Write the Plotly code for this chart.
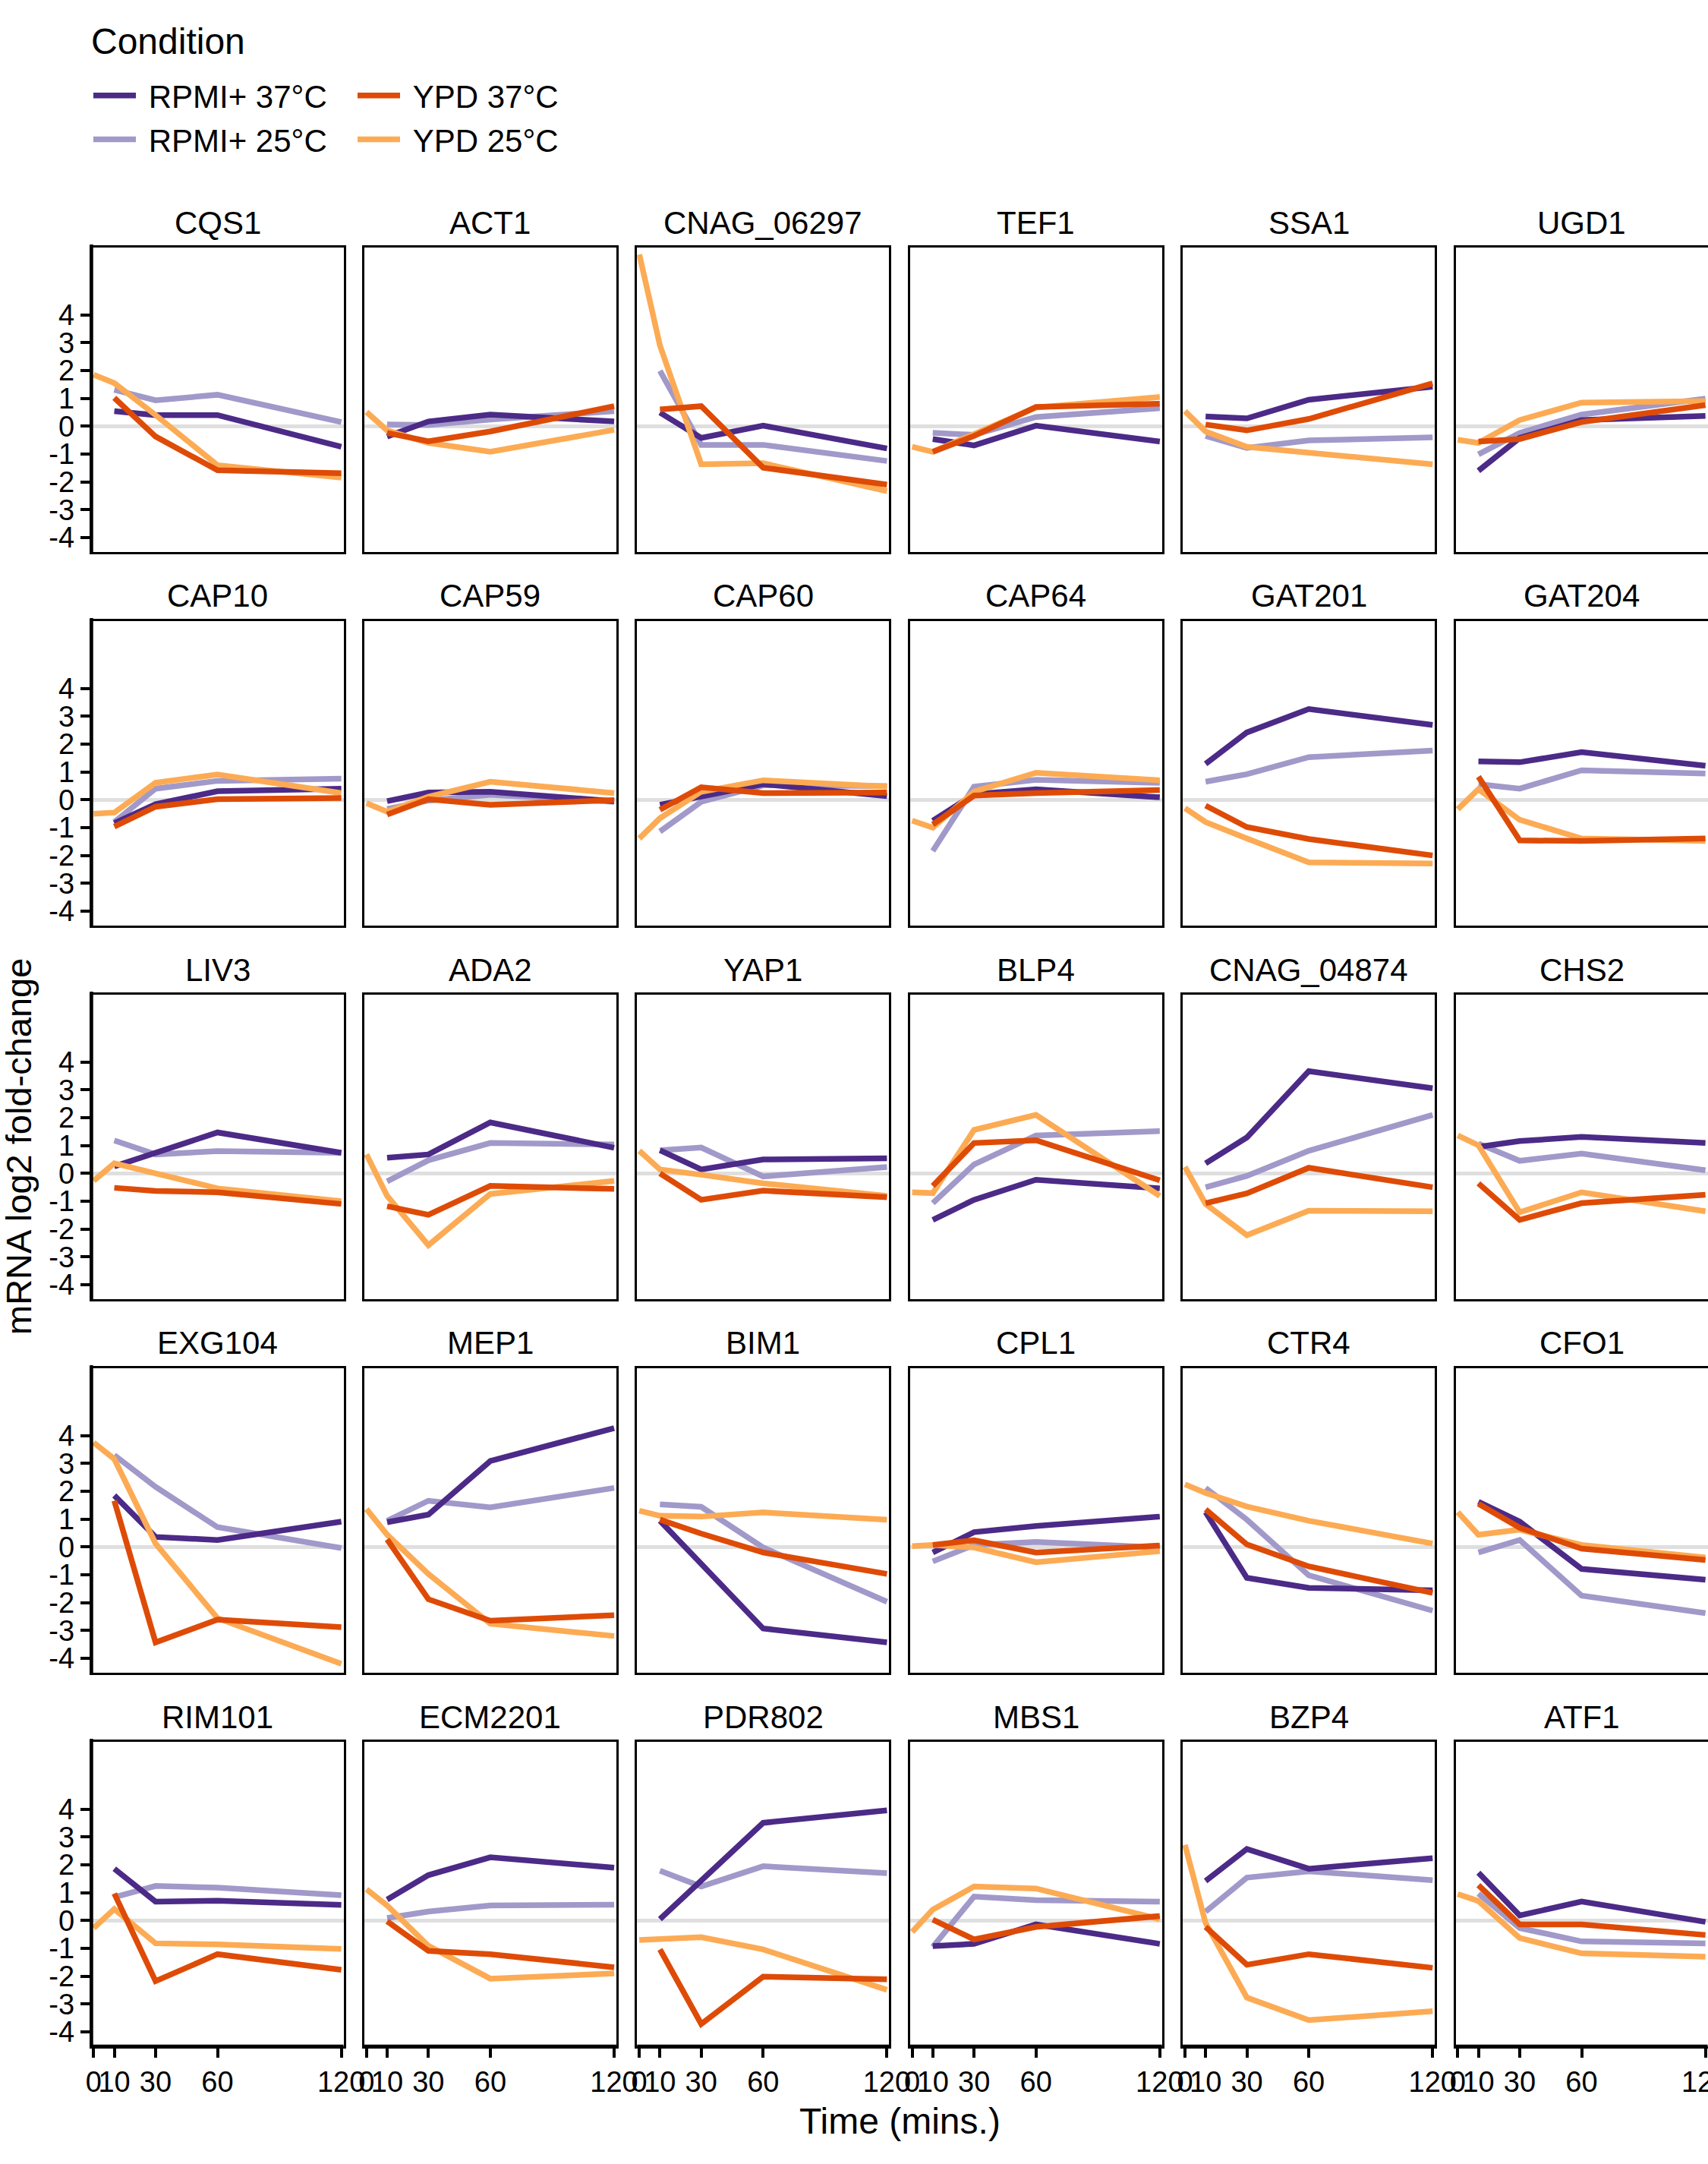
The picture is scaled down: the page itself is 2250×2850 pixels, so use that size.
import plotly.graph_objects as go

# ---------------- data ----------------
times = [0, 10, 30, 60, 120]
x_tick_labels = ["0", "10", "30", "60", "120"]
y_tick_vals = [-4, -3, -2, -1, 0, 1, 2, 3, 4]
y_tick_labels = ["-4", "-3", "-2", "-1", "0", "1", "2", "3", "4"]

genes = ["CQS1", "ACT1", "CNAG_06297", "TEF1", "SSA1", "UGD1",
         "CAP10", "CAP59", "CAP60", "CAP64", "GAT201", "GAT204",
         "LIV3", "ADA2", "YAP1", "BLP4", "CNAG_04874", "CHS2",
         "EXG104", "MEP1", "BIM1", "CPL1", "CTR4", "CFO1",
         "RIM101", "ECM2201", "PDR802", "MBS1", "BZP4", "ATF1"]

# values at 10, 30, 60, 120 min
rpmi_37 = [
    [0.54, 0.40, 0.40, -0.74], [-0.37, 0.17, 0.42, 0.17], [0.49, -0.42, 0.02, -0.80],
    [-0.46, -0.69, 0.02, -0.55], [0.35, 0.28, 0.95, 1.42], [-1.60, -0.42, 0.22, 0.37],
    [-0.84, -0.16, 0.31, 0.40], [-0.05, 0.26, 0.29, -0.05], [-0.18, 0.11, 0.56, 0.13],
    [-0.75, 0.20, 0.38, 0.09], [1.29, 2.42, 3.26, 2.69], [1.38, 1.35, 1.71, 1.22],
    [0.25, 0.72, 1.47, 0.74], [0.56, 0.68, 1.83, 0.92], [0.83, 0.14, 0.50, 0.54],
    [-1.67, -0.95, -0.23, -0.54], [0.36, 1.29, 3.67, 3.06], [0.95, 1.16, 1.31, 1.09],
    [1.85, 0.36, 0.25, 0.91], [0.89, 1.16, 3.09, 4.27], [0.94, -0.61, -2.93, -3.43],
    [-0.20, 0.53, 0.75, 1.09], [1.25, -1.11, -1.47, -1.56], [1.62, 0.91, -0.79, -1.18],
    [1.86, 0.68, 0.71, 0.56], [0.75, 1.63, 2.27, 1.90], [0.05, 1.42, 3.51, 3.96],
    [-0.92, -0.84, -0.14, -0.84], [1.42, 2.57, 1.86, 2.24], [1.72, 0.18, 0.68, -0.05],
]
rpmi_25 = [
    [1.31, 0.93, 1.13, 0.15], [0.06, 0.04, 0.24, 0.54], [1.99, -0.67, -0.67, -1.25],
    [-0.24, -0.31, 0.33, 0.65], [-0.35, -0.78, -0.51, -0.40], [-1.01, -0.24, 0.42, 0.99],
    [-0.80, 0.40, 0.68, 0.76], [-0.33, -0.03, 0.18, -0.07], [-1.14, -0.07, 0.52, 0.49],
    [-1.84, 0.47, 0.72, 0.61], [0.65, 0.92, 1.53, 1.77], [0.56, 0.40, 1.06, 0.94],
    [1.18, 0.68, 0.80, 0.74], [-0.29, 0.47, 1.09, 1.04], [0.83, 0.93, -0.11, 0.23],
    [-1.07, 0.32, 1.36, 1.52], [-0.50, -0.09, 0.81, 2.10], [1.07, 0.45, 0.71, 0.11],
    [3.30, 2.16, 0.71, -0.04], [0.94, 1.66, 1.42, 2.12], [1.53, 1.44, -0.02, -1.97],
    [-0.52, 0.07, 0.18, -0.02], [2.12, 0.98, -1.02, -2.29], [-0.20, 0.25, -1.75, -2.38],
    [0.84, 1.24, 1.18, 0.91], [0.09, 0.32, 0.54, 0.57], [1.79, 1.22, 1.95, 1.70],
    [-0.95, 0.86, 0.73, 0.68], [0.32, 1.54, 1.77, 1.45], [0.97, -0.27, -0.75, -0.82],
]
ypd_37 = [
    [1.02, -0.37, -1.58, -1.69], [-0.24, -0.54, -0.19, 0.72], [0.60, 0.72, -1.49, -2.10],
    [-0.92, -0.35, 0.69, 0.81], [0.06, -0.15, 0.26, 1.54], [-0.55, -0.46, 0.15, 0.76],
    [-0.96, -0.25, 0.02, 0.06], [-0.53, 0.02, -0.18, -0.01], [-0.36, 0.45, 0.24, 0.26],
    [-0.89, 0.15, 0.24, 0.35], [-0.21, -0.98, -1.41, -2.00], [0.83, -1.46, -1.48, -1.39],
    [-0.52, -0.63, -0.68, -1.10], [-1.18, -1.49, -0.45, -0.56], [0.00, -0.95, -0.62, -0.86],
    [-0.45, 1.09, 1.19, -0.25], [-1.07, -0.72, 0.20, -0.50], [-0.36, -1.67, -1.07, -0.77],
    [1.66, -3.43, -2.61, -2.88], [0.27, -1.88, -2.65, -2.45], [0.98, 0.48, -0.20, -0.97],
    [0.07, 0.24, -0.20, 0.05], [1.35, 0.09, -0.70, -1.65], [1.55, 0.69, -0.06, -0.47],
    [0.97, -2.18, -1.21, -1.77], [-0.03, -1.09, -1.21, -1.68], [-1.04, -3.72, -2.02, -2.11],
    [0.03, -0.68, -0.23, 0.16], [-0.23, -1.59, -1.21, -1.70], [1.27, -0.14, -0.14, -0.52],
]
# values at 0, 10, 30, 60, 120 min
ypd_25 = [
    [1.85, 1.55, 0.40, -1.40, -1.85], [0.51, -0.15, -0.60, -0.92, -0.13], [6.17, 2.90, -1.37, -1.33, -2.33],
    [-0.74, -0.92, -0.28, 0.67, 1.05], [0.54, -0.19, -0.74, -0.96, -1.37], [-0.49, -0.60, 0.22, 0.85, 0.90],
    [-0.50, -0.46, 0.61, 0.91, 0.24], [-0.12, -0.43, 0.11, 0.65, 0.24], [-1.39, -0.66, 0.29, 0.70, 0.47],
    [-0.75, -1.00, 0.29, 0.97, 0.70], [-0.30, -0.80, -1.39, -2.25, -2.29], [-0.34, 0.38, -0.72, -1.39, -1.48],
    [-0.27, 0.36, 0.00, -0.54, -1.00], [0.68, -0.81, -2.58, -0.74, -0.27], [0.81, 0.14, -0.05, -0.36, -0.81],
    [-0.68, -0.71, 1.56, 2.10, -0.81], [0.23, -1.10, -2.22, -1.34, -1.36], [1.36, 1.01, -1.40, -0.68, -1.36],
    [3.75, 3.16, 0.12, -2.56, -4.20], [1.36, 0.44, -0.97, -2.76, -3.20], [1.30, 1.12, 1.09, 1.24, 0.98],
    [0.03, 0.07, -0.02, -0.55, -0.15], [2.25, 1.94, 1.45, 0.94, 0.12], [1.25, 0.44, 0.62, 0.07, -0.38],
    [-0.27, 0.41, -0.82, -0.86, -1.02], [1.12, 0.54, -0.91, -2.09, -1.90], [-0.70, -0.66, -0.60, -1.04, -2.49],
    [-0.41, 0.39, 1.22, 1.15, 0.05], [2.72, -0.09, -2.77, -3.58, -3.26], [0.95, 0.70, -0.63, -1.18, -1.30],
]

cond_names = ["RPMI+ 25°C", "RPMI+ 37°C", "YPD 25°C", "YPD 37°C"]  # drawing order
cond_data = {"RPMI+ 37°C": rpmi_37, "RPMI+ 25°C": rpmi_25,
             "YPD 37°C": ypd_37, "YPD 25°C": ypd_25}
cond_colors = {"RPMI+ 37°C": "#4c2a87", "RPMI+ 25°C": "#a199c9",
               "YPD 37°C": "#de4b07", "YPD 25°C": "#fcab54"}
cond_rank = {"RPMI+ 37°C": 1, "RPMI+ 25°C": 2, "YPD 37°C": 3, "YPD 25°C": 4}
cond_legend = {"RPMI+ 37°C": "legend", "RPMI+ 25°C": "legend",
               "YPD 37°C": "legend2", "YPD 25°C": "legend2"}

# ---------------- layout geometry ----------------
W, H = 2250, 2850
NCOL, NROW = 6, 5
col_left, col_pitch, panel_w = 120.5, 359.4, 332.0
row_top, row_pitch, panel_h = 326.0, 492.0, 401.0
FONT = "Liberation Sans, Arial, Helvetica, sans-serif"

fig = go.Figure()
layout = dict(
    width=W, height=H, template="none",
    margin=dict(l=0, r=0, t=0, b=0),
    paper_bgcolor="white", plot_bgcolor="white",
    font=dict(family=FONT, color="black", size=38),
    showlegend=True,
)
annotations = []
shapes = []

for i, g in enumerate(genes):
    r, c = divmod(i, NCOL)
    k = "" if i == 0 else str(i + 1)
    x0 = (col_left + c * col_pitch) / W
    x1 = (col_left + c * col_pitch + panel_w) / W
    top = row_top + r * row_pitch
    y1 = 1 - top / H
    y0 = 1 - (top + panel_h) / H
    bottom_row = (r == NROW - 1)
    left_col = (c == 0)

    for cond in cond_names:
        vals = cond_data[cond][i]
        yv = list(vals) if len(vals) == 5 else [None] + list(vals)
        fig.add_trace(go.Scatter(
            x=times, y=yv, mode="lines", name="\u00a0" + cond,
            line=dict(color=cond_colors[cond], width=7.5),
            xaxis="x" + k, yaxis="y" + k,
            showlegend=(i == 0), legendgroup=cond,
            legend=cond_legend[cond], legendrank=cond_rank[cond],
            connectgaps=False, hoverinfo="skip",
        ))

    layout["xaxis" + k] = dict(
        domain=[x0, min(x1, 1.0)], anchor="y" + k, range=[-1.06, 121.06],
        showgrid=False, zeroline=False,
        showline=True, mirror=True, linecolor="black", linewidth=2.5,
        tickmode="array", tickvals=times, ticktext=x_tick_labels, tickangle=0,
        ticks="outside" if bottom_row else "", ticklen=12, tickwidth=3.5,
        tickcolor="black", showticklabels=bottom_row, ticklabeloverflow="allow",
        tickfont=dict(size=38, color="black", family=FONT),
        automargin=False, fixedrange=True,
    )
    layout["yaxis" + k] = dict(
        domain=[y0, y1], anchor="x" + k, range=[-4.52, 6.42],
        showgrid=False, zeroline=True, zerolinecolor="#dfdfdf", zerolinewidth=4.5,
        showline=True, mirror=True, linecolor="black", linewidth=2.5,
        tickmode="array", tickvals=y_tick_vals, ticktext=y_tick_labels,
        ticks="outside" if left_col else "", ticklen=12, tickwidth=3.5,
        tickcolor="black", showticklabels=left_col,
        tickfont=dict(size=38, color="black", family=FONT),
        automargin=False, fixedrange=True,
    )
    # strip title
    annotations.append(dict(
        text=g, x=(x0 + min(x1, 1.0)) / 2, y=1 - (top - 33) / H,
        xref="paper", yref="paper", xanchor="center", yanchor="middle",
        showarrow=False, font=dict(size=42, color="black", family=FONT)))
    # thick axis lines
    if bottom_row:
        shapes.append(dict(type="line", xref="x" + k + " domain", yref="y" + k + " domain",
                           x0=0, x1=1, y0=0, y1=0, line=dict(color="black", width=4.5),
                           layer="above"))
    if left_col:
        shapes.append(dict(type="line", xref="x" + k + " domain", yref="y" + k + " domain",
                           x0=0, x1=0, y0=0, y1=1.01, line=dict(color="black", width=4.5),
                           layer="above"))

# axis titles
annotations.append(dict(
    text="Time (mins.)", x=(col_left + (NCOL * col_pitch - (col_pitch - panel_w)) / 2) / W,
    y=1 - 2793 / H, xref="paper", yref="paper", xanchor="center", yanchor="middle",
    showarrow=False, font=dict(size=48, color="black", family=FONT)))
annotations.append(dict(
    text="mRNA log2 fold-change", x=24 / W, y=1 - 1510 / H, textangle=-90,
    xref="paper", yref="paper", xanchor="center", yanchor="middle",
    showarrow=False, font=dict(size=47, color="black", family=FONT)))
# legend title
annotations.append(dict(
    text="Condition", x=118 / W, y=1 - 55 / H,
    xref="paper", yref="paper", xanchor="left", yanchor="middle",
    showarrow=False, font=dict(size=48, color="black", family=FONT)))

layout["annotations"] = annotations
layout["shapes"] = shapes
layout["legend"] = dict(
    x=118 / W, y=1 - 92 / H, xanchor="left", yanchor="top", orientation="v",
    font=dict(size=42, color="black", family=FONT), bgcolor="rgba(0,0,0,0)",
    traceorder="normal", itemwidth=56, tracegroupgap=0,
)
layout["legend2"] = dict(
    x=466 / W, y=1 - 92 / H, xanchor="left", yanchor="top", orientation="v",
    font=dict(size=42, color="black", family=FONT), bgcolor="rgba(0,0,0,0)",
    traceorder="normal", itemwidth=56, tracegroupgap=0,
)
fig.update_layout(**layout)
fig.write_html("out.html")
